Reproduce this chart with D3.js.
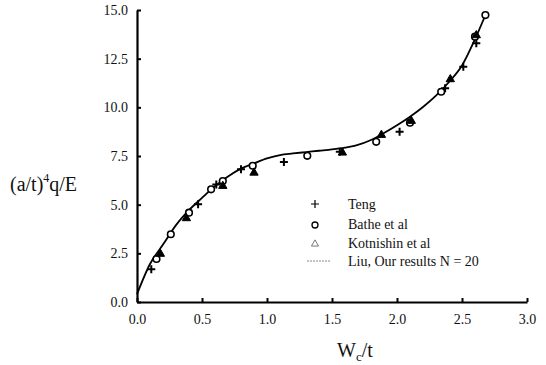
<!DOCTYPE html>
<html>
<head>
<meta charset="utf-8">
<script src="https://cdn.jsdelivr.net/npm/d3@7"></script>
<style>
  body { margin: 0; background: #fff; }
  svg text { font-family: "Liberation Serif", "DejaVu Serif", serif; fill: #111; }
</style>
</head>
<body>
<div id="chart"></div>
<script>
// Données
const xTicks = [0.0, 0.5, 1.0, 1.5, 2.0, 2.5, 3.0];
const yTicks = [0.0, 2.5, 5.0, 7.5, 10.0, 12.5, 15.0];

const tengX = [0.11, 0.47, 0.61, 0.80, 1.13, 1.56, 2.02, 2.37, 2.51, 2.61];
const tengY = [1.68, 5.02, 6.04, 6.82, 7.19, 7.72, 8.75, 10.98, 12.08, 13.29];

const batheX = [0.15, 0.26, 0.40, 0.57, 0.66, 0.89, 1.31, 1.84, 2.10, 2.34, 2.60, 2.68];
const batheY = [2.21, 3.48, 4.59, 5.79, 6.21, 7.00, 7.51, 8.23, 9.21, 10.80, 13.63, 14.74];

const kotX = [0.18, 0.38, 0.66, 0.90, 1.58, 1.88, 2.11, 2.41, 2.61];
const kotY = [2.47, 4.30, 5.96, 6.64, 7.67, 8.58, 9.30, 11.44, 13.70];

const liuX = [0.0, 0.1, 0.2, 0.3, 0.4, 0.5, 0.6, 0.7, 0.8, 0.9, 1.0, 1.1, 1.2, 1.3, 1.4, 1.5, 1.6, 1.68, 1.8, 1.9, 2.0, 2.1, 2.2, 2.3, 2.4, 2.5, 2.6, 2.69];
const liuY = [0.4, 1.95, 2.95, 3.95, 4.72, 5.35, 5.95, 6.45, 6.85, 7.12, 7.38, 7.55, 7.63, 7.7, 7.77, 7.84, 7.93, 8.03, 8.32, 8.68, 9.08, 9.52, 10.02, 10.6, 11.3, 12.15, 13.5, 14.9];

const legendLabels = ['Teng', 'Bathe et al', 'Kotnishin et al', 'Liu, Our results N = 20'];

const width = 546, height = 365;
const margin = { top: 10, right: 19, bottom: 63, left: 137 };

const svg = d3.select('#chart').append('svg')
  .attr('width', width)
  .attr('height', height);

const x = d3.scaleLinear().domain([0, 3]).range([margin.left, width - margin.right]);
const y = d3.scaleLinear().domain([0, 15]).range([height - margin.bottom, margin.top]);

// Axes (ticks vers l'intérieur)
const xAxis = d3.axisBottom(x).tickValues(xTicks).tickFormat(d3.format('.1f'))
  .tickSizeInner(-4).tickSizeOuter(0).tickPadding(12);
const yAxis = d3.axisLeft(y).tickValues(yTicks).tickFormat(d3.format('.1f'))
  .tickSizeInner(-4).tickSizeOuter(0).tickPadding(9);

const gx = svg.append('g').attr('transform', `translate(0,${y(0)})`).call(xAxis);
const gy = svg.append('g').attr('transform', `translate(${x(0)},0)`).call(yAxis);

[gx, gy].forEach(g => {
  g.attr('font-family', null);
  g.select('.domain').attr('stroke', '#000').attr('stroke-width', 2.2);
  g.selectAll('.tick line').attr('stroke', '#000').attr('stroke-width', 2);
  g.selectAll('.tick text').attr('font-size', '14px').attr('fill', '#111');
});
gx.selectAll('.tick text').attr('dy', '0.71em');

// Courbe Liu
const line = d3.line()
  .x((d, i) => x(liuX[i]))
  .y(d => y(d))
  .curve(d3.curveMonotoneX);

svg.append('path')
  .datum(liuY)
  .attr('d', line)
  .attr('fill', 'none')
  .attr('stroke', '#000')
  .attr('stroke-width', 1.8);

// Teng : croix
svg.append('g').selectAll('path')
  .data(tengY)
  .enter()
  .append('path')
  .attr('d', (d, i) => `M${x(tengX[i]) - 4},${y(d)}H${x(tengX[i]) + 4}M${x(tengX[i])},${y(d) - 4}V${y(d) + 4}`)
  .attr('stroke', '#000')
  .attr('stroke-width', 2);

// Bathe : cercles
svg.append('g').selectAll('circle')
  .data(batheY)
  .enter()
  .append('circle')
  .attr('cx', (d, i) => x(batheX[i]))
  .attr('cy', d => y(d))
  .attr('r', 3.3)
  .attr('fill', '#fff')
  .attr('stroke', '#000')
  .attr('stroke-width', 1.6);

// Kotnishin : triangles
const tri = d3.symbol().type(d3.symbolTriangle).size(30);
svg.append('g').selectAll('path')
  .data(kotY)
  .enter()
  .append('path')
  .attr('d', tri)
  .attr('transform', (d, i) => `translate(${x(kotX[i])},${y(d)})`)
  .attr('fill', '#000')
  .attr('stroke', '#000')
  .attr('stroke-width', 1);

// Légende
const legend = svg.append('g');
const rowY = [204, 224, 243, 261];

legend.append('path')
  .attr('d', `M311,${rowY[0]}H319M315,${rowY[0] - 4}V${rowY[0] + 4}`)
  .attr('stroke', '#000').attr('stroke-width', 1.2);
legend.append('circle')
  .attr('cx', 315).attr('cy', rowY[1] + 1).attr('r', 3)
  .attr('fill', 'none').attr('stroke', '#000').attr('stroke-width', 1.3);
legend.append('path')
  .attr('d', d3.symbol().type(d3.symbolTriangle).size(22))
  .attr('transform', `translate(315,${rowY[2] + 1})`)
  .attr('fill', 'none').attr('stroke', '#777').attr('stroke-width', 1);
legend.append('line')
  .attr('x1', 307).attr('x2', 330)
  .attr('y1', rowY[3]).attr('y2', rowY[3])
  .attr('stroke', '#888').attr('stroke-width', 1)
  .attr('stroke-dasharray', '2,1');

legend.selectAll('text')
  .data(legendLabels)
  .enter()
  .append('text')
  .attr('x', 348)
  .attr('y', (d, i) => rowY[i] + 5)
  .attr('font-size', '14px')
  .text(d => d);

// Titres des axes
const yTitle = svg.append('text')
  .attr('x', 10)
  .attr('y', 191)
  .attr('font-size', '20px');
yTitle.append('tspan').text('(a/t)');
yTitle.append('tspan').attr('font-size', '12px').attr('dy', '-9').text('4');
yTitle.append('tspan').attr('dy', '9').text('q/E');

const xTitle = svg.append('text')
  .attr('x', 337)
  .attr('y', 357)
  .attr('font-size', '20px');
xTitle.append('tspan').text('W');
xTitle.append('tspan').attr('font-size', '13px').attr('dy', '4').text('c');
xTitle.append('tspan').attr('dy', '-4').text('/t');
</script>
</body>
</html>
